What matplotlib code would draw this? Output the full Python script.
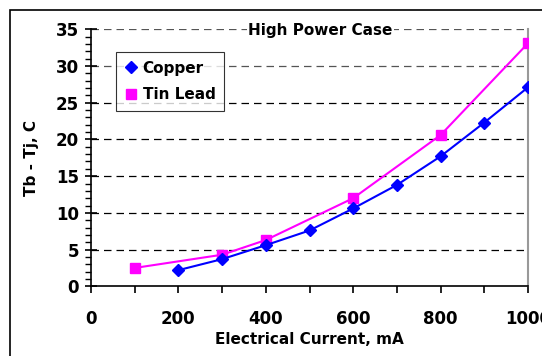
import matplotlib
matplotlib.use('Agg')
import matplotlib.pyplot as plt
from matplotlib.patches import Rectangle
from matplotlib.lines import Line2D
from matplotlib.ticker import MultipleLocator

# data
copper_x = [200, 300, 400, 500, 600, 700, 800, 900, 1000]
copper_y = [2.2, 3.7, 5.6, 7.6, 10.6, 13.8, 17.7, 22.3, 27.1]
tinlead_x = [100, 300, 400, 600, 800, 1000]
tinlead_y = [2.5, 4.3, 6.3, 12.0, 20.6, 33.1]
x_ticks = [0, 200, 400, 600, 800, 1000]
y_ticks = [0, 5, 10, 15, 20, 25, 30, 35]

plt.rcParams['font.family'] = ['DejaVu Sans']
plt.rcParams['font.weight'] = 'bold'

W, H, dpi = 542, 356, 100
fig = plt.figure(figsize=(W / dpi, H / dpi), dpi=dpi)
ax = fig.add_axes([91 / W, 1 - 286.3 / H, (528 - 91) / W, (286.3 - 29.3) / H])

# outer chart-area frame (runs off the right and bottom of the picture)
fig.patches.append(Rectangle((10 / W, -0.1), 1.2, 1 - 10 / H + 0.1,
                             transform=fig.transFigure, fill=False,
                             edgecolor='black', linewidth=1.2, clip_on=False))

ax.plot(copper_x, copper_y, color='#0000FF', marker='D', markersize=6.5,
        linewidth=1.5, zorder=4)
ax.plot(tinlead_x, tinlead_y, color='#FF00FF', marker='s', markersize=7.5,
        linewidth=1.5, zorder=3)

ax.set_xlim(0, 1000)
ax.set_ylim(0, 35)
ax.set_xticks(x_ticks)
ax.xaxis.set_minor_locator(MultipleLocator(100))
ax.set_yticks(y_ticks)
ax.yaxis.set_minor_locator(MultipleLocator(1))

for y in y_ticks[1:]:
    ax.axhline(y, color='black' if y < 30 else '#555555', linestyle=(0, (6, 4)),
               linewidth=0.9, zorder=1)

ax.spines['top'].set_visible(False)
ax.spines['right'].set_color('#999999')
ax.spines['right'].set_linewidth(1.5)
ax.spines['left'].set_linewidth(1.2)
ax.spines['bottom'].set_linewidth(1.2)

ax.tick_params(axis='y', which='major', direction='inout', length=9, width=1.2,
               labelsize=12, pad=4)
ax.tick_params(axis='y', which='minor', direction='out', length=4, width=1)
ax.tick_params(axis='x', which='both', direction='out', length=5, width=1.2)
ax.tick_params(axis='x', which='major', labelsize=12, pad=12)

ax.set_xlabel('Electrical Current, mA', fontsize=11, fontweight='bold', labelpad=3)
ax.set_ylabel('Tb - Tj, C', fontsize=11, fontweight='bold', labelpad=12)

ax.text(0.525, 0.995, 'High Power Case', transform=ax.transAxes, ha='center',
        va='center', fontsize=11, fontweight='bold', zorder=5,
        bbox=dict(facecolor='white', edgecolor='none', pad=1))

handles = [Line2D([], [], color='#0000FF', marker='D', markersize=6.5, linestyle='none'),
           Line2D([], [], color='#FF00FF', marker='s', markersize=7.5, linestyle='none')]
leg = ax.legend(handles, ['Copper', 'Tin Lead'], loc='upper left',
                bbox_to_anchor=(25 / 437, 1 - 23 / 257),
                fontsize=11, frameon=True, fancybox=False, edgecolor='black',
                handlelength=0.8, handletextpad=0.4, borderpad=0.55,
                labelspacing=0.75, borderaxespad=0)
leg.get_frame().set_linewidth(0.8)
leg.set_zorder(6)

fig.savefig('out.png', dpi=dpi)
